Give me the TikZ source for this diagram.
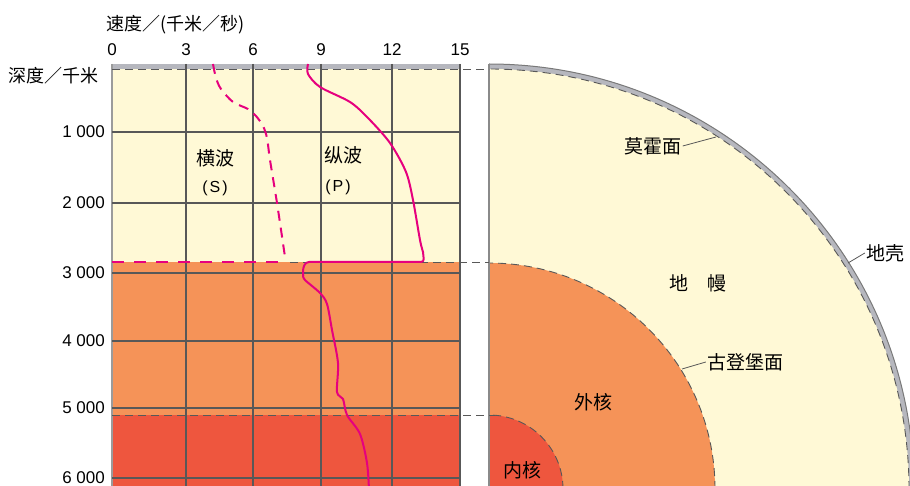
\documentclass[tikz,border=0pt]{standalone}
\usepackage{fontspec}
\setmainfont{Liberation Sans}
\newfontfamily\cjk{Noto Sans CJK SC}
\usepackage{xcolor}
\definecolor{manteau}{RGB}{255,249,214}
\definecolor{noyauext}{RGB}{245,147,88}
\definecolor{noyauint}{RGB}{238,86,62}
\definecolor{croute}{RGB}{182,183,190}
\definecolor{rose}{RGB}{230,0,126}
\definecolor{gris}{RGB}{88,88,88}

\begin{document}
\begin{tikzpicture}[x=1pt,y=-1pt,
    grille/.style={draw=gris,line width=1.2pt},
    limite/.style={draw=gris,line width=0.9pt,dash pattern=on 8pt off 5pt},
    onde/.style={draw=rose,line width=2pt},
    etiquette/.style={inner sep=1pt,font=\cjk\fontsize{19}{19}\selectfont},
    chiffre/.style={inner sep=1pt,font=\fontsize{17}{17}\selectfont}]
    \useasboundingbox (0,0) rectangle (910,486);

    % Couches du graphique
    \fill[croute] (112,64) rectangle (460,69);
    \fill[manteau] (112,69) rectangle (460,262);
    \fill[noyauext] (112,262) rectangle (460,415);
    \fill[noyauint] (112,415) rectangle (460,486);

    % Quart de Terre
    \begin{scope}
        \clip (489,0) rectangle (910,486);
        \fill[croute] (489,489) circle (425pt);
        \fill[manteau] (489,489) circle (420pt);
        \fill[noyauext] (489,489) circle (226pt);
        \fill[noyauint] (489,489) circle (74pt);
        \draw[draw=gris!80,line width=1pt] (489,489) circle (425pt);
        \draw[limite] (489,489) circle (420pt);
        \draw[limite] (489,489) circle (226pt);
        \draw[limite] (489,489) circle (74pt);
    \end{scope}
    \draw[draw=gris!70,line width=1.3pt] (489,64) -- (489,486);

    % Grille
    \draw[draw=gris!60,line width=1.5pt] (112,64) -- (112,486);
    \foreach \x in {186,253,321,392,460}
        \draw[grille] (\x,64) -- (\x,486);
    \foreach \y in {132,203,273,341,408,478}
        \draw[grille] (112,\y) -- (460,\y);

    % Limites
    \draw[limite] (112,69) -- (489,69);
    \draw[limite] (290,262) -- (489,262);
    \draw[limite] (112,415) -- (495,415);

    % Ondes S
    \draw[onde,dash pattern=on 10pt off 7pt] plot[smooth] coordinates
        {(213,64) (216,78) (221,89) (233,102) (248,109) (256,116) (263,126) (267,138) (270,160) (277,203) (285,257)};
    \draw[onde,dash pattern=on 12pt off 10pt] (112,262) -- (286,262);

    % Ondes P
    \draw[onde] plot[smooth] coordinates
        {(308,64) (308,74) (320,87) (350,102) (368,118) (390,143) (406,172) (413,200) (420,240) (423,252)};
    \draw[onde,rounded corners=3pt] (423,252) -- (424,262) -- (306,262) -- (303,268) -- (303,276);
    \draw[onde] plot[smooth] coordinates
        {(303,275) (305,280) (320,293) (327,304) (332,330) (338,363) (337,392) (343,399) (347,415) (360,434) (367,463) (369,490)};

    % Axes
    \node[anchor=west,inner sep=1pt,font=\cjk\fontsize{18}{18}\selectfont] (titrev) at (105,25) {速度／(千米／秒)};
    \node[anchor=east,inner sep=1pt,font=\cjk\fontsize{18}{18}\selectfont] (titrep) at (100,76) {深度／千米};
    \foreach \x/\v in {112/0,186/3,253/6,321/9,392/12,460/15}
        \node[chiffre] (v\v) at (\x,50) {\v};
    \foreach \y/\p in {132/1,203/2,273/3,341/4,408/5,478/6}
        \node[chiffre,anchor=east] (p\p) at (106,\y) {\p\ 000};

    % Noms
    \node[etiquette] (hengbo) at (215,158) {横波};
    \node[chiffre,font=\fontsize{16}{16}\selectfont] (s) at (215,188) {(\hspace{2pt}S\hspace{2pt})};
    \node[etiquette] (zongbo) at (343,155) {纵波};
    \node[chiffre,font=\fontsize{16}{16}\selectfont] (p) at (338,187) {(\hspace{2pt}P\hspace{2pt})};
    \node[etiquette] (moho) at (653,146) {莫霍面};
    \node[etiquette] (diqiao) at (885,253) {地壳};
    \node[etiquette] (diman) at (698,283) {地\hspace{0.95em}幔};
    \node[etiquette] (gutenberg) at (745,362) {古登堡面};
    \node[etiquette] (waihe) at (593,402) {外核};
    \node[etiquette] (neihe) at (522,470) {内核};

    % Traits de rappel
    \coordinate (mohoP) at (716,137);
    \coordinate (diqiaoP) at (848,263);
    \coordinate (gutenbergP) at (682,369);
    \draw[gris,line width=0.8pt] (moho.east) -- (mohoP);
    \draw[gris,line width=0.8pt] (diqiao.west) -- (diqiaoP);
    \draw[gris,line width=0.8pt] (gutenberg.west) -- (gutenbergP);
\end{tikzpicture}
\end{document}
